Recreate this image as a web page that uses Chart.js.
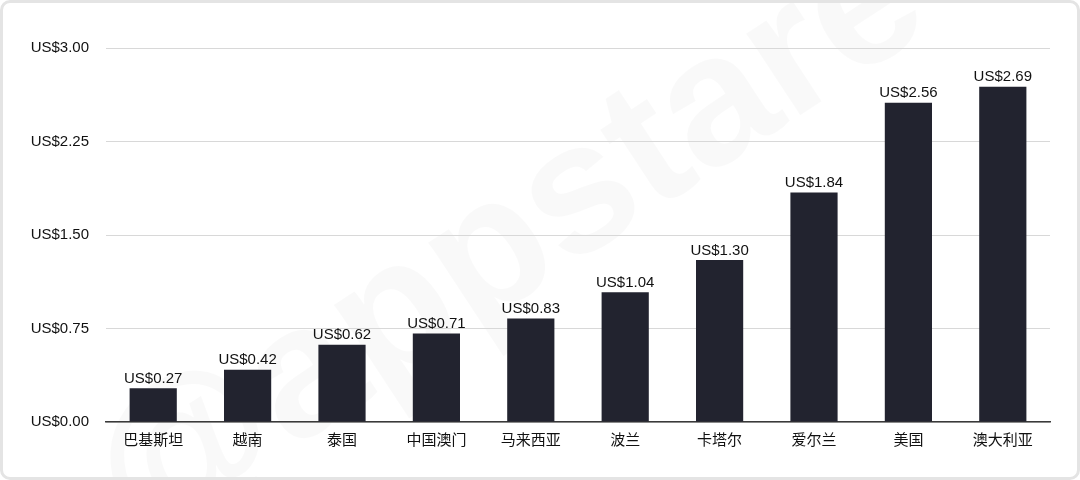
<!DOCTYPE html>
<html>
<head>
<meta charset="utf-8">
<script src="https://cdn.jsdelivr.net/npm/chart.js@4"></script>
<style>
  html, body { margin: 0; padding: 0; background: #fff; }
  #wrap { position: relative; width: 1080px; height: 480px; }
  #frame {
    position: absolute; left: 0; top: 0; width: 1080px; height: 480px;
    box-sizing: border-box; border: 3px solid #e4e4e4; border-radius: 10px;
    pointer-events: none;
  }
</style>
</head>
<body>
<div id="wrap">
  <canvas id="chart" width="1080" height="480"></canvas>
  <div id="frame"></div>
</div>
<script>
// 数据
const countries = ['巴基斯坦', '越南', '泰国', '中国澳门', '马来西亚', '波兰', '卡塔尔', '爱尔兰', '美国', '澳大利亚'];
const prices = [0.27, 0.42, 0.62, 0.71, 0.83, 1.04, 1.30, 1.84, 2.56, 2.69];
const yTicks = [0, 0.75, 1.5, 2.25, 3.0];

const FONT = 'Helvetica, Arial, "Liberation Sans", "Noto Sans CJK SC", sans-serif';
const fmt = v => 'US$' + v.toFixed(2);

// 水印
const watermark = {
    id: 'watermark',
    beforeDraw(chart) {
        const ctx = chart.ctx;
        ctx.save();
        ctx.translate(510, 245);
        ctx.rotate(-Math.PI / 5.4);
        ctx.font = 'bold 185px ' + FONT;
        ctx.fillStyle = 'rgba(0,0,0,0.025)';
        ctx.textAlign = 'center';
        ctx.textBaseline = 'middle';
        ctx.fillText('@appstare', 0, 0);
        ctx.restore();
    }
};

// 柱顶数值
const valueLabels = {
    id: 'valueLabels',
    afterDatasetsDraw(chart) {
        const ctx = chart.ctx;
        const meta = chart.getDatasetMeta(0);
        ctx.save();
        ctx.font = '15px ' + FONT;
        ctx.fillStyle = '#111';
        ctx.textAlign = 'center';
        ctx.textBaseline = 'bottom';
        meta.data.forEach((bar, i) => {
            ctx.fillText(fmt(prices[i]), bar.x, bar.y - 2);
        });
        ctx.restore();
    }
};

new Chart(document.getElementById('chart'), {
    type: 'bar',
    data: {
        labels: countries,
        datasets: [{
            data: prices,
            backgroundColor: '#22232f',
            barPercentage: 0.5,
            categoryPercentage: 1.0
        }]
    },
    options: {
        responsive: false,
        animation: false,
        layout: { padding: { top: 48, right: 30, bottom: 0, left: 0 } },
        plugins: {
            legend: { display: false },
            tooltip: { enabled: false }
        },
        scales: {
            x: {
                grid: { display: false, drawTicks: false },
                border: { color: '#3a3a3a', width: 1.5 },
                ticks: { color: '#111', font: { size: 15, family: FONT }, padding: 10 },
                afterFit(scale) { scale.height = 58; }
            },
            y: {
                min: 0,
                max: 3,
                afterBuildTicks(scale) { scale.ticks = yTicks.map(v => ({ value: v })); },
                grid: { color: '#d8d8d8', lineWidth: 1, drawTicks: false },
                border: { display: false },
                ticks: {
                    color: '#111',
                    font: { size: 15, family: FONT },
                    padding: 17,
                    callback: v => fmt(v)
                },
                afterFit(scale) { scale.width = 106; }
            }
        }
    },
    plugins: [watermark, valueLabels]
});
</script>
</body>
</html>
